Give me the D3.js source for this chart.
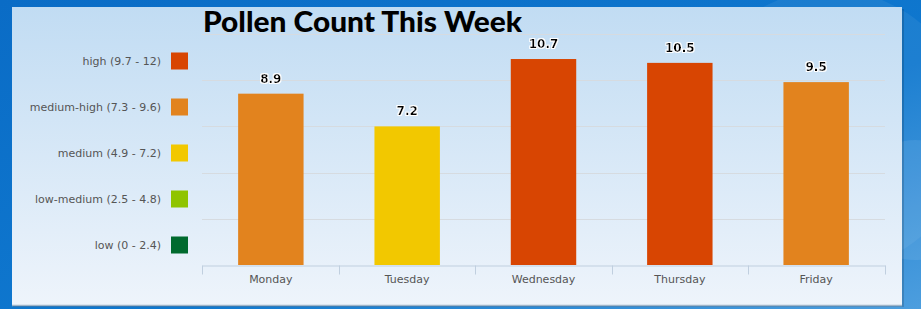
<!DOCTYPE html>
<html>
<head>
<meta charset="utf-8">
<script src="https://cdn.jsdelivr.net/npm/d3@7"></script>
<style>
  body { margin: 0; overflow: hidden; }
  svg { display: block; }
</style>
</head>
<body>
<svg id="chart" width="921" height="309"></svg>
<script>
// pollen data for the week
const days = ['Monday', 'Tuesday', 'Wednesday', 'Thursday', 'Friday'];
const counts = [8.9, 7.2, 10.7, 10.5, 9.5];

// legend levels, from high to low
const levelLabels = ['high (9.7 - 12)', 'medium-high (7.3 - 9.6)', 'medium (4.9 - 7.2)', 'low-medium (2.5 - 4.8)', 'low (0 - 2.4)'];
const levelColors = ['#d84502', '#e2831e', '#f2c800', '#8fc400', '#006a2e'];
const levelBreaks = [2.45, 4.85, 7.25, 9.65];
const gridValues = [2.4, 4.8, 7.2, 9.6, 12];

const svg = d3.select('#chart');
const W = +svg.attr('width');
const H = +svg.attr('height');

// background gradients
const defs = svg.append('defs');
const bg = defs.append('linearGradient').attr('id', 'bg').attr('x1', 0).attr('y1', 0).attr('x2', 1).attr('y2', 1);
bg.append('stop').attr('offset', '0%').attr('stop-color', '#0a6cc6');
bg.append('stop').attr('offset', '60%').attr('stop-color', '#0f78cf');
bg.append('stop').attr('offset', '100%').attr('stop-color', '#4d9ede');
const panel = defs.append('linearGradient').attr('id', 'panel').attr('x1', 0).attr('y1', 0).attr('x2', 0).attr('y2', 1);
panel.append('stop').attr('offset', '0%').attr('stop-color', '#c1dcf3');
panel.append('stop').attr('offset', '100%').attr('stop-color', '#eef4fb');
const glow = defs.append('filter').attr('id', 'halo').attr('x', '-20%').attr('y', '-30%').attr('width', '140%').attr('height', '160%');
glow.append('feMorphology').attr('in', 'SourceAlpha').attr('operator', 'dilate').attr('radius', 1.2).attr('result', 'd');
glow.append('feFlood').attr('flood-color', '#ffffff');
glow.append('feComposite').attr('in2', 'd').attr('operator', 'in').attr('result', 'w');
const merge = glow.append('feMerge');
merge.append('feMergeNode').attr('in', 'w');
merge.append('feMergeNode').attr('in', 'SourceGraphic');

svg.append('rect').attr('width', W).attr('height', H).attr('fill', 'url(#bg)');
// faint bubbles on the right
svg.append('circle').attr('cx', 830).attr('cy', 130).attr('r', 140)
  .attr('fill', '#ffffff').attr('fill-opacity', 0.06);
svg.append('circle').attr('cx', 915).attr('cy', 200).attr('r', 60)
  .attr('fill', '#ffffff').attr('fill-opacity', 0.08);

// panel
svg.append('rect').attr('x', 13).attr('y', 9).attr('width', 891).attr('height', 298)
  .attr('fill', '#000').attr('fill-opacity', 0.15);
svg.append('rect').attr('x', 12).attr('y', 7).attr('width', 890).attr('height', 298)
  .attr('fill', 'url(#panel)');
svg.append('line').attr('x1', 12).attr('x2', 902).attr('y1', 305.5).attr('y2', 305.5)
  .attr('stroke', '#9fb4c8').attr('stroke-width', 1.5);

// scales
const x = d3.scaleBand().domain(days).range([202, 885]).paddingInner(0.52).paddingOuter(0.265);
const y = d3.scaleLinear().domain([0, 12]).range([265, 34]);
const color = d3.scaleThreshold().domain(levelBreaks).range(levelColors.slice().reverse());

// gridlines
svg.append('g').selectAll('line')
  .data(gridValues)
  .join('line')
  .attr('x1', 202).attr('x2', 885)
  .attr('y1', d => Math.round(y(d)) + 0.5).attr('y2', d => Math.round(y(d)) + 0.5)
  .attr('stroke', '#d6dbe0').attr('stroke-width', 1);

// title
svg.append('text')
  .attr('x', 203).attr('y', 32)
  .attr('font-family', 'Lato, sans-serif').attr('font-weight', 900)
  .attr('font-size', 29)
  .attr('textLength', 319).attr('lengthAdjust', 'spacingAndGlyphs')
  .attr('fill', '#000')
  .text('Pollen Count This Week');

// bars
svg.append('g').selectAll('rect')
  .data(counts)
  .join('rect')
  .attr('x', (d, i) => x(days[i]))
  .attr('y', d => y(d))
  .attr('width', x.bandwidth())
  .attr('height', d => y(0) - y(d))
  .attr('fill', d => color(d));

// value labels
svg.append('g').selectAll('text')
  .data(counts)
  .join('text')
  .attr('x', (d, i) => x(days[i]) + x.bandwidth() / 2)
  .attr('y', d => y(d) - 11)
  .attr('text-anchor', 'middle')
  .attr('font-family', 'DejaVu Sans, sans-serif').attr('font-weight', 'bold')
  .attr('font-size', 12)
  .attr('fill', '#000')
  .attr('filter', 'url(#halo)')
  .text(d => d.toFixed(1));

// x axis
const xAxis = svg.append('g')
  .attr('transform', 'translate(0,265.5)')
  .call(d3.axisBottom(x).tickSize(0).tickPadding(10));
xAxis.select('.domain').attr('stroke', '#c0cfdf');
xAxis.selectAll('text')
  .attr('font-family', 'DejaVu Sans, sans-serif').attr('font-size', 11)
  .attr('fill', '#555');
const edges = days.map(d => x(d) - x.step() * x.paddingInner() / 2).concat([885]);
edges[0] = 202;
xAxis.selectAll('.edge')
  .data(edges)
  .join('line')
  .attr('class', 'edge')
  .attr('x1', d => Math.round(d) + 0.5).attr('x2', d => Math.round(d) + 0.5)
  .attr('y1', 0).attr('y2', 9)
  .attr('stroke', '#c0cfdf');

// legend
const ly = d3.scalePoint().domain(levelLabels).range([61, 245]);
const legend = svg.append('g').selectAll('g')
  .data(levelLabels)
  .join('g')
  .attr('transform', d => `translate(0,${ly(d)})`);
legend.append('rect')
  .attr('x', 171).attr('y', -8.5)
  .attr('width', 17).attr('height', 17)
  .attr('fill', (d, i) => levelColors[i]);
legend.append('text')
  .attr('x', 161).attr('y', 0).attr('dy', '0.35em')
  .attr('text-anchor', 'end')
  .attr('font-family', 'DejaVu Sans, sans-serif').attr('font-size', 11)
  .attr('fill', '#555')
  .text(d => d);
</script>
</body>
</html>
